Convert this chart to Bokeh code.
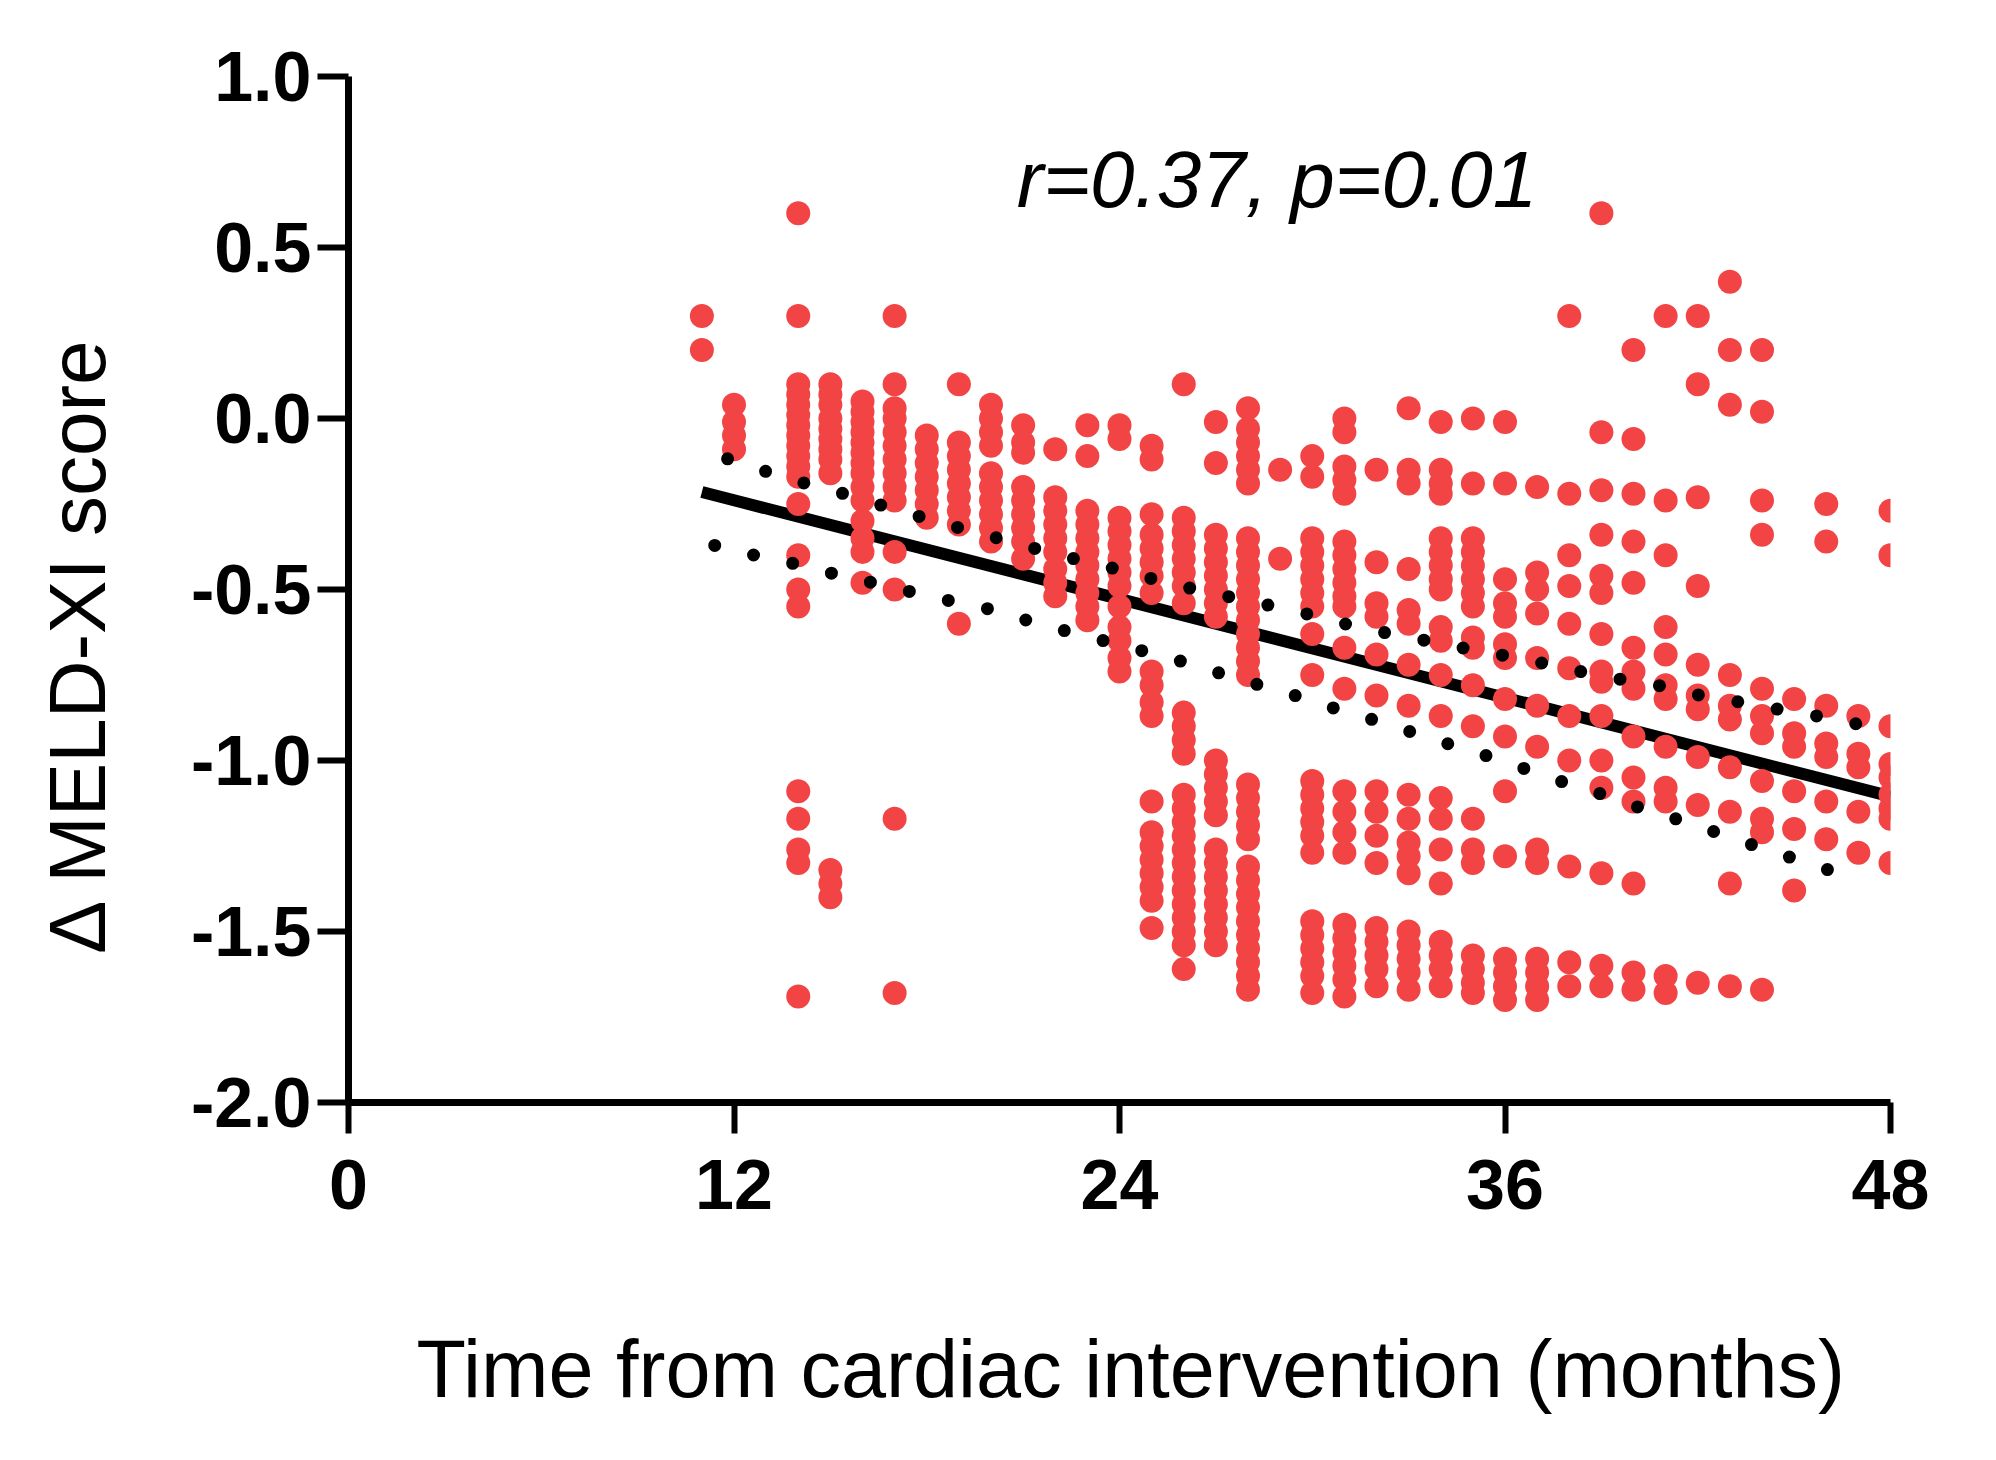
from bokeh.plotting import figure
from bokeh.models import Range1d, FixedTicker, Label, ColumnDataSource
from bokeh.embed import file_html
from bokeh.resources import INLINE

# ---- data: month -> delta MELD-XI values ----
m11 = [0.30, 0.20]
m12 = [0.04, -0.01, -0.05, -0.09]
m14 = [0.60, 0.30, 0.10, 0.07, 0.04, 0.01, -0.02, -0.05, -0.08, -0.11, -0.14, -0.17, -0.25, -0.40, -0.50, -0.55, -1.09, -1.17, -1.26, -1.30, -1.69]
m15 = [0.10, 0.07, 0.04, 0.00, -0.03, -0.06, -0.09, -0.12, -0.16, -1.32, -1.36, -1.40]
m16 = [0.05, 0.02, -0.01, -0.04, -0.07, -0.10, -0.13, -0.16, -0.20, -0.24, -0.30, -0.35, -0.39, -0.48]
m17 = [0.30, 0.10, 0.03, 0.00, -0.04, -0.08, -0.12, -0.16, -0.20, -0.24, -0.39, -0.50, -1.17, -1.68]
m18 = [-0.05, -0.09, -0.13, -0.17, -0.21, -0.25, -0.29]
m19 = [0.10, -0.07, -0.11, -0.15, -0.19, -0.23, -0.27, -0.31, -0.60]
m20 = [0.04, 0.00, -0.04, -0.08, -0.16, -0.20, -0.24, -0.28, -0.32, -0.36]
m21 = [-0.02, -0.07, -0.10, -0.20, -0.24, -0.28, -0.32, -0.36, -0.41]
m22 = [-0.09, -0.23, -0.27, -0.31, -0.35, -0.39, -0.44, -0.48, -0.52]
m23 = [-0.02, -0.11, -0.27, -0.31, -0.35, -0.39, -0.43, -0.47, -0.51, -0.55, -0.59]
m24 = [-0.02, -0.06, -0.29, -0.33, -0.37, -0.41, -0.45, -0.49, -0.55, -0.61, -0.65, -0.70, -0.74]
m25 = [-0.08, -0.12, -0.28, -0.34, -0.38, -0.42, -0.46, -0.51, -0.74, -0.78, -0.83, -0.87, -1.12, -1.21, -1.25, -1.29, -1.33, -1.37, -1.41, -1.49]
m26 = [0.10, -0.29, -0.33, -0.37, -0.41, -0.45, -0.49, -0.54, -0.86, -0.90, -0.94, -0.98, -1.10, -1.14, -1.18, -1.22, -1.26, -1.30, -1.34, -1.38, -1.42, -1.46, -1.50, -1.54, -1.61]
m27 = [-0.01, -0.13, -0.34, -0.38, -0.42, -0.46, -0.50, -0.54, -0.58, -1.00, -1.04, -1.08, -1.12, -1.16, -1.26, -1.30, -1.34, -1.38, -1.42, -1.46, -1.50, -1.54]
m28 = [0.03, -0.03, -0.07, -0.11, -0.15, -0.19, -0.35, -0.39, -0.43, -0.47, -0.51, -0.55, -0.59, -0.63, -0.67, -0.71, -0.75, -1.07, -1.11, -1.15, -1.19, -1.23, -1.31, -1.35, -1.39, -1.43, -1.47, -1.51, -1.55, -1.59, -1.63, -1.67]
m29 = [-0.15, -0.41]
m30 = [-0.11, -0.17, -0.35, -0.39, -0.43, -0.47, -0.51, -0.55, -0.63, -0.75, -1.06, -1.10, -1.14, -1.18, -1.22, -1.27, -1.47, -1.51, -1.55, -1.59, -1.63, -1.68]
m31 = [0.00, -0.04, -0.14, -0.18, -0.22, -0.36, -0.40, -0.44, -0.48, -0.52, -0.55, -0.67, -0.79, -1.09, -1.15, -1.21, -1.27, -1.48, -1.52, -1.56, -1.60, -1.64, -1.69]
m32 = [-0.15, -0.42, -0.54, -0.58, -0.69, -0.81, -1.09, -1.15, -1.22, -1.30, -1.49, -1.53, -1.57, -1.61, -1.66]
m33 = [0.03, -0.15, -0.19, -0.44, -0.56, -0.60, -0.72, -0.84, -1.10, -1.17, -1.24, -1.28, -1.33, -1.50, -1.54, -1.58, -1.62, -1.67]
m34 = [-0.01, -0.15, -0.19, -0.22, -0.35, -0.39, -0.43, -0.47, -0.50, -0.61, -0.65, -0.75, -0.87, -1.11, -1.17, -1.26, -1.36, -1.53, -1.57, -1.61, -1.66]
m35 = [0.00, -0.19, -0.35, -0.39, -0.43, -0.47, -0.51, -0.55, -0.64, -0.67, -0.78, -0.90, -1.17, -1.26, -1.30, -1.57, -1.61, -1.65, -1.68]
m36 = [-0.01, -0.19, -0.47, -0.54, -0.58, -0.66, -0.70, -0.82, -0.93, -1.09, -1.28, -1.58, -1.62, -1.66, -1.70]
m37 = [-0.20, -0.45, -0.50, -0.57, -0.70, -0.84, -0.96, -1.26, -1.30, -1.58, -1.62, -1.66, -1.70]
m38 = [0.30, -0.22, -0.40, -0.49, -0.60, -0.73, -0.87, -1.00, -1.31, -1.59, -1.66]
m39 = [0.60, -0.04, -0.21, -0.34, -0.46, -0.51, -0.63, -0.74, -0.77, -0.87, -1.00, -1.08, -1.33, -1.60, -1.66]
m40 = [0.20, -0.06, -0.22, -0.36, -0.48, -0.67, -0.74, -0.79, -0.93, -1.05, -1.12, -1.36, -1.62, -1.67]
m41 = [0.30, -0.24, -0.40, -0.61, -0.69, -0.78, -0.82, -0.96, -1.08, -1.12, -1.63, -1.68]
m42 = [0.30, 0.10, -0.23, -0.49, -0.72, -0.81, -0.85, -0.99, -1.13, -1.65]
m43 = [0.40, 0.20, 0.04, -0.75, -0.84, -0.88, -1.02, -1.15, -1.36, -1.66]
m44 = [0.20, 0.02, -0.24, -0.34, -0.79, -0.87, -0.92, -1.06, -1.17, -1.21, -1.67]
m45 = [-0.82, -0.92, -0.96, -1.09, -1.20, -1.38]
m46 = [-0.25, -0.36, -0.84, -0.95, -0.99, -1.12, -1.23]
m47 = [-0.87, -0.98, -1.02, -1.15, -1.27]
m48 = [-0.27, -0.40, -0.90, -1.01, -1.05, -1.10, -1.14, -1.17, -1.30]

months = [11, 12, 14, 15, 16, 17, 18, 19, 20, 21, 22, 23, 24, 25, 26, 27, 28, 29,
          30, 31, 32, 33, 34, 35, 36, 37, 38, 39, 40, 41, 42, 43, 44, 45, 46, 47, 48]
columns = [m11, m12, m14, m15, m16, m17, m18, m19, m20, m21, m22, m23, m24, m25, m26, m27, m28, m29,
           m30, m31, m32, m33, m34, m35, m36, m37, m38, m39, m40, m41, m42, m43, m44, m45, m46, m47, m48]

# regression line and 95% confidence band
fit_x = [11, 48]
fit_y = [-0.215, -1.105]
upper_x = [11.8, 13.0, 14.2, 15.5, 16.7, 18.0, 19.2, 20.5, 21.7, 23.0, 24.3, 25.5, 26.8, 28.0,
           29.3, 30.6, 31.8, 33.1, 34.4, 35.7, 37.0, 38.2, 39.5, 40.8, 42.0, 43.3, 44.6, 45.9, 47.2]
upper_y = [-0.118, -0.155, -0.189, -0.222, -0.257, -0.293, -0.325, -0.357, -0.389, -0.420, -0.449,
           -0.482, -0.508, -0.534, -0.558, -0.591, -0.618, -0.641, -0.666, -0.688, -0.712, -0.737,
           -0.761, -0.781, -0.808, -0.829, -0.852, -0.873, -0.898]
lower_x = [11.4, 12.6, 13.9, 15.1, 16.4, 17.7, 18.9, 20.2, 21.4, 22.7, 24.0, 25.2, 26.5, 27.7,
           29.0, 30.2, 31.45, 32.7, 33.9, 35.2, 36.4, 37.6, 38.9, 40.1, 41.3, 42.6, 43.8, 45.0, 46.3]
lower_y = [-0.371, -0.399, -0.425, -0.454, -0.482, -0.511, -0.537, -0.562, -0.599, -0.630, -0.662,
           -0.691, -0.725, -0.763, -0.795, -0.834, -0.868, -0.905, -0.942, -0.979, -1.017, -1.057,
           -1.095, -1.135, -1.170, -1.211, -1.250, -1.287, -1.327]

x_ticks = [0, 12, 24, 36, 48]
y_ticks = [1.0, 0.5, 0.0, -0.5, -1.0, -1.5, -2.0]
stat_text = "r=0.37, p=0.01"
x_title = "Time from cardiac intervention (months)"
y_title = "\u0394 MELD-XI score"

xs, ys = [], []
for m, col in zip(months, columns):
    for v in col:
        xs.append(m)
        ys.append(v)
src = ColumnDataSource(dict(x=xs, y=ys))

FONT = "Liberation Sans"
RED = "#F24444"

p = figure(width=1980, height=1444, output_backend="svg", toolbar_location=None,
           x_range=Range1d(0, 48), y_range=Range1d(-2.0, 1.0),
           min_border_left=348, min_border_right=90, min_border_top=76, min_border_bottom=342)
p.outline_line_color = None
p.grid.visible = False
p.background_fill_color = "white"
p.border_fill_color = "white"

p.line(fit_x, fit_y, line_color="black", line_width=12)
p.scatter("x", "y", source=src, size=24, fill_color=RED, line_color=RED, line_width=0)
p.line(upper_x, upper_y, line_color="black", line_width=13, line_dash="0 40", line_cap="round")
p.line(lower_x, lower_y, line_color="black", line_width=13, line_dash="0 40", line_cap="round")

for ax in (p.xaxis[0], p.yaxis[0]):
    ax.axis_line_width = 7
    ax.axis_line_color = "black"
    ax.major_tick_line_width = 6
    ax.major_tick_line_color = "black"
    ax.major_tick_out = 31
    ax.major_tick_in = 0
    ax.minor_tick_line_color = None
    ax.major_label_text_font = FONT
    ax.major_label_text_font_style = "bold"
    ax.major_label_text_font_size = "70px"
    ax.major_label_text_color = "black"
    ax.axis_label_text_font = FONT
    ax.axis_label_text_font_style = "normal"
    ax.axis_label_text_color = "black"

p.xaxis.ticker = FixedTicker(ticks=x_ticks)
p.yaxis.ticker = FixedTicker(ticks=y_ticks)
p.yaxis.major_label_overrides = {v: f"{v:.1f}" for v in y_ticks}
p.xaxis.major_label_standoff = 26
p.yaxis.major_label_standoff = 6

# a leading no-break space nudges the centred x title slightly right
p.xaxis.axis_label = "\u00a0" + x_title
p.xaxis.axis_label_text_font_size = "81px"
p.xaxis.axis_label_standoff = 112

# trailing no-break spaces move the rotated label's visible text down the axis
p.yaxis.axis_label = y_title + "\u00a0" * 5
p.yaxis.axis_label_text_font_size = "80px"
p.yaxis.axis_label_standoff = 66

p.add_layout(Label(x=28.9, y=0.70, text=stat_text, text_align="center", text_baseline="middle",
                   text_font=FONT, text_font_style="italic", text_font_size="80px",
                   text_color="black"))

open("out.html", "w").write(file_html(p, INLINE))
